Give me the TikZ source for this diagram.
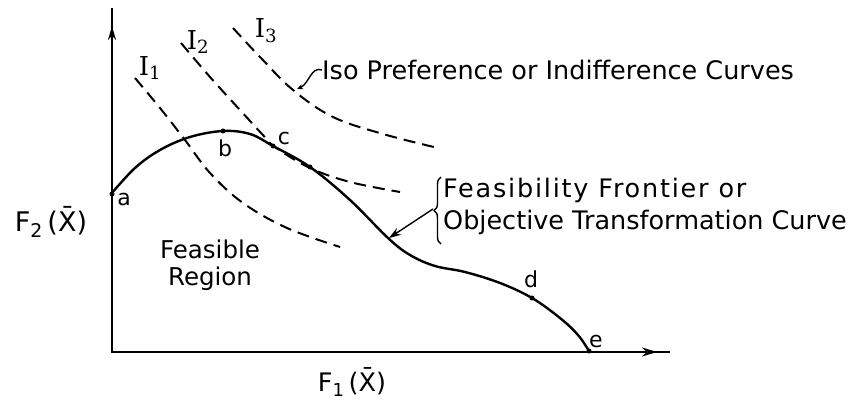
\documentclass[tikz,border=0pt]{standalone}
\usepackage{fontspec}
\setmainfont{DejaVu Sans}
\newfontfamily\serifI{DejaVu Serif}
\usetikzlibrary{arrows.meta,decorations.pathreplacing}
\begin{document}
\begin{tikzpicture}[x=1pt,y=-1pt,
  txt/.style={font=\fontsize{25.5}{32}\selectfont, inner sep=0pt},
  lbl/.style={font=\fontsize{22}{26}\selectfont, inner sep=0pt},
  ilbl/.style={font=\fontsize{26}{30}\selectfont\serifI, inner sep=0pt},
  frontier/.style={line width=2.4pt, line cap=round, line join=round},
  iso/.style={line width=2pt, dash pattern=on 12pt off 7pt},
  axis/.style={line width=2pt},
  leader/.style={line width=1.4pt}]
\useasboundingbox (0,0) rectangle (849,401);

% axes
\coordinate (O) at (112,352);
\coordinate (ytop) at (112,8);
\coordinate (yarr) at (112,26);
\coordinate (xend) at (670,352);
\coordinate (xarr) at (657,352);
\draw[axis] (ytop) -- (O) -- (xend);
\draw[axis, -{Stealth[length=14pt,width=8pt]}] (O) -- (yarr);
\draw[axis, -{Stealth[length=15pt,width=9pt]}] (O) -- (xarr);

% frontier
\draw[frontier] plot[smooth, tension=0.6] coordinates {
  (112,193) (135,168) (160,150) (190,137) (223,131) (250,134) (273,146)
  (310,167) (350,200) (388,238) (410,255) (435,266) (465,272) (500,283)
  (532,298) (560,318) (578,335) (589,351)};

% iso preference curves
\draw[iso] plot[smooth, tension=0.6] coordinates {
  (135,78) (160,108) (185,140) (210,173) (243,203) (287,228) (340,247)};
\draw[iso] plot[smooth, tension=0.6] coordinates {
  (181,43) (210,77) (240,110) (262,134) (275,147) (310,168) (350,182) (400,192)};
\draw[iso] plot[smooth, tension=0.6] coordinates {
  (233,28) (260,57) (293,90) (333,117) (383,134) (438,148)};

% points
\coordinate (a) at (112,194);
\coordinate (b) at (223,131);
\coordinate (c) at (273,146);
\coordinate (t2) at (310,167);
\coordinate (d) at (532,298);
\coordinate (e) at (589,351);
\foreach \p in {a,b,c,t2,d,e} \fill (\p) circle (2.5pt);
\node[lbl] (la) at (124,199) {a};
\node[lbl] (lb) at (225,148) {b};
\node[lbl] (lc) at (284,138) {c};
\node[lbl] (ld) at (531,279) {d};
\node[lbl] (le) at (596,341) {e};

% curve labels
\node[ilbl] (i1) at (150,68) {I\textsubscript{1}};
\node[ilbl] (i2) at (198,42) {I\textsubscript{2}};
\node[ilbl] (i3) at (266,31) {I\textsubscript{3}};

% iso text and leader
\node[txt, anchor=west] (iso) at (322,70) {Iso Preference or Indifference Curves};
\coordinate (isohit) at (297,89);
\draw[leader, -{Stealth[length=6pt,width=5pt]}] (iso.west) .. controls (311,66) and (309,84) .. (isohit);

% feasibility text, brace and arrow
\node[txt, anchor=west, align=left] (feas) at (443,206) {{\addfontfeature{LetterSpace=7}Feasibility Frontier or}\\Objective Transformation Curve};
\coordinate (bb) at (441,244);
\coordinate (bt) at (441,177);
\draw[leader, decorate, decoration={brace, amplitude=7pt}] (bb) -- (bt);
\coordinate (brtip) at (433,209);
\coordinate (hit) at (389,238);
\draw[leader, -{Stealth[length=12pt,width=8pt]}] (brtip) -- (hit);

% region and axis labels
\node[txt, align=center, font=\fontsize{24.5}{27}\selectfont] (fr) at (210,265) {Feasible\\Region};
\node[txt] (f1) at (352,382) {F\textsubscript{1}\,(\={X})};
\node[txt, font=\fontsize{27}{32}\selectfont] (f2) at (51,222) {F\textsubscript{2}\,(\={X})};
\end{tikzpicture}
\end{document}
